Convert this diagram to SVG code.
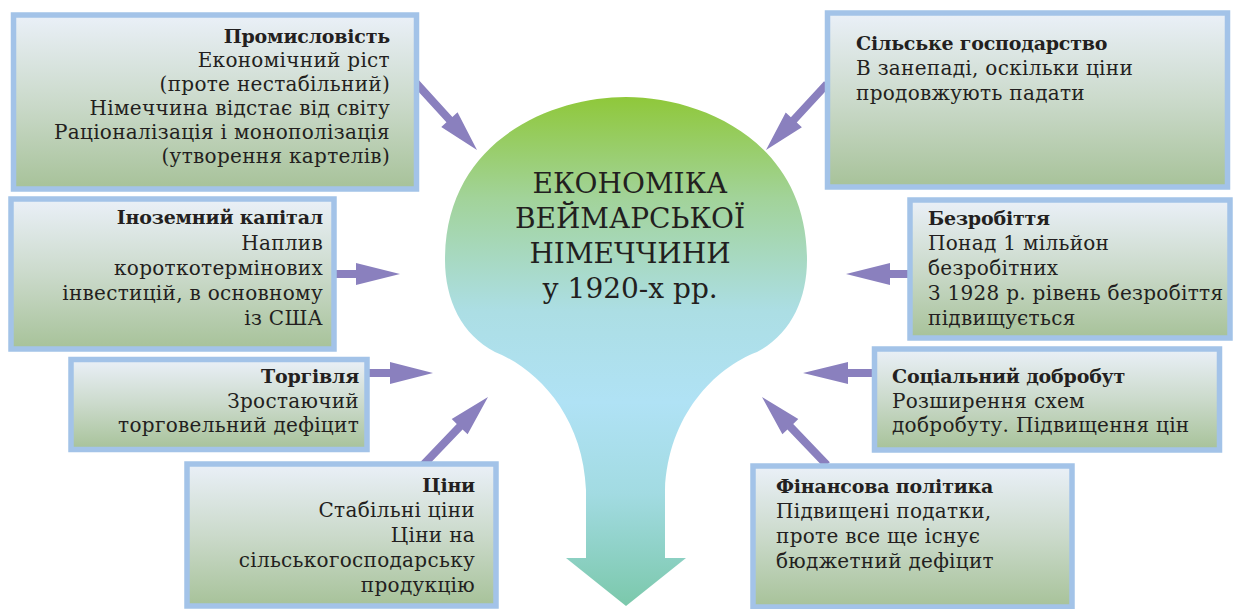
<svg xmlns="http://www.w3.org/2000/svg" width="1235" height="609" viewBox="0 0 1235 609">
<defs>
<linearGradient id="boxg" x1="0" y1="0" x2="0" y2="1">
<stop offset="0" stop-color="#eaf0f8"/>
<stop offset="0.5" stop-color="#cbdacb"/>
<stop offset="1" stop-color="#a7c299"/>
</linearGradient>
<linearGradient id="bulbg" gradientUnits="userSpaceOnUse" x1="0" y1="97" x2="0" y2="606">
<stop offset="0" stop-color="#8fc83a"/>
<stop offset="0.2" stop-color="#a2d39a"/>
<stop offset="0.42" stop-color="#acdee4"/>
<stop offset="0.6" stop-color="#b0e2f5"/>
<stop offset="0.78" stop-color="#a2dbe2"/>
<stop offset="1" stop-color="#7bc8ab"/>
</linearGradient>
<style>
.box{fill:url(#boxg);stroke:#a3c3e8;stroke-width:5.5}
.t{font-family:"DejaVu Serif","Liberation Serif",serif;font-size:20px;letter-spacing:0.3px;fill:#231f20}
.b{font-weight:bold;letter-spacing:-0.2px;font-size:19px}
.r{text-anchor:end}
.c{font-family:"DejaVu Serif","Liberation Serif",serif;font-size:28px;fill:#231f20;text-anchor:middle}
.arr{fill:#8a80be}
</style>
</defs>
<g id="center">
<path d="M626,97 C700,97 807,140 807,260 C807,300 790,335 757,352 C715,368 668,415 665,490 L665,558 L686,558 L626,606 L566,558 L586,558 L586,490 C583,415 536,368 495,352 C462,335 445,300 445,260 C445,140 552,97 626,97 Z" fill="url(#bulbg)"/>
<text class="c" x="630" y="193">ЕКОНОМІКА</text>
<text class="c" x="630" y="228">ВЕЙМАРСЬКОЇ</text>
<text class="c" x="630" y="263">НІМЕЧЧИНИ</text>
<text class="c" x="630" y="298">у 1920-х рр.</text>
</g>
<g id="connectors">
<path class="arr" transform="translate(477,150) rotate(47.7)" d="M-92,-4 L-41,-4 L-41,-11 L0,0 L-41,11 L-41,4 L-92,4 Z"/>
<path class="arr" transform="translate(766,150) rotate(132.7)" d="M-90,-4 L-41,-4 L-41,-11 L0,0 L-41,11 L-41,4 L-90,4 Z"/>
<path class="arr" transform="translate(400,274) rotate(0)" d="M-68,-4 L-44,-4 L-44,-11 L0,0 L-44,11 L-44,4 L-68,4 Z"/>
<path class="arr" transform="translate(433,373) rotate(0)" d="M-67,-4 L-43,-4 L-43,-11 L0,0 L-43,11 L-43,4 L-67,4 Z"/>
<path class="arr" transform="translate(488,397) rotate(-46.3)" d="M-94,-4 L-41,-4 L-41,-11 L0,0 L-41,11 L-41,4 L-94,4 Z"/>
<path class="arr" transform="translate(762,397) rotate(-133.7)" d="M-94,-4 L-41,-4 L-41,-11 L0,0 L-41,11 L-41,4 L-94,4 Z"/>
<path class="arr" transform="translate(846,274) rotate(180)" d="M-66,-4 L-44,-4 L-44,-11 L0,0 L-44,11 L-44,4 L-66,4 Z"/>
<path class="arr" transform="translate(803,373) rotate(180)" d="M-73,-4 L-45,-4 L-45,-11 L0,0 L-45,11 L-45,4 L-73,4 Z"/>
</g>
<g id="industry">
<rect class="box" x="13.5" y="15" width="403" height="174"/>
<text class="t b r" x="390" y="43">Промисловість</text>
<text class="t r" x="390" y="67">Економічний ріст</text>
<text class="t r" x="390" y="91">(проте нестабільний)</text>
<text class="t r" x="390" y="115">Німеччина відстає від світу</text>
<text class="t r" x="390" y="139">Раціоналізація і монополізація</text>
<text class="t r" x="390" y="163">(утворення картелів)</text>
</g>
<g id="agriculture">
<rect class="box" x="827.5" y="13" width="400" height="174"/>
<text class="t b" x="856" y="50">Сільське господарство</text>
<text class="t" x="856" y="75">В занепаді, оскільки ціни</text>
<text class="t" x="856" y="100">продовжують падати</text>
</g>
<g id="capital">
<rect class="box" x="11" y="199" width="323" height="150"/>
<text class="t b r" x="323" y="224">Іноземний капітал</text>
<text class="t r" x="323" y="250">Наплив</text>
<text class="t r" x="323" y="275">короткотермінових</text>
<text class="t r" x="323" y="300">інвестицій, в основному</text>
<text class="t r" x="323" y="325">із США</text>
</g>
<g id="trade">
<rect class="box" x="71" y="359.5" width="296" height="90"/>
<text class="t b r" x="359" y="383">Торгівля</text>
<text class="t r" x="359" y="408">Зростаючий</text>
<text class="t r" x="359" y="432">торговельний дефіцит</text>
</g>
<g id="prices">
<rect class="box" x="187" y="464" width="309" height="142"/>
<text class="t b r" x="475" y="492">Ціни</text>
<text class="t r" x="475" y="517">Стабільні ціни</text>
<text class="t r" x="475" y="542">Ціни на</text>
<text class="t r" x="475" y="567">сільськогосподарську</text>
<text class="t r" x="475" y="592">продукцію</text>
</g>
<g id="finance">
<rect class="box" x="753" y="466" width="319" height="141"/>
<text class="t b" x="776" y="493">Фінансова політика</text>
<text class="t" x="776" y="518">Підвищені податки,</text>
<text class="t" x="776" y="543">проте все ще існує</text>
<text class="t" x="776" y="568">бюджетний дефіцит</text>
</g>
<g id="unemployment">
<rect class="box" x="910" y="200" width="320" height="138"/>
<text class="t b" x="928" y="225">Безробіття</text>
<text class="t" x="928" y="250">Понад 1 мільйон</text>
<text class="t" x="928" y="275">безробітних</text>
<text class="t" x="928" y="300">З 1928 р. рівень безробіття</text>
<text class="t" x="928" y="325">підвищується</text>
</g>
<g id="welfare">
<rect class="box" x="874.5" y="349" width="345" height="101"/>
<text class="t b" x="892" y="383">Соціальний добробут</text>
<text class="t" x="892" y="408">Розширення схем</text>
<text class="t" x="892" y="432">добробуту. Підвищення цін</text>
</g>
</svg>
